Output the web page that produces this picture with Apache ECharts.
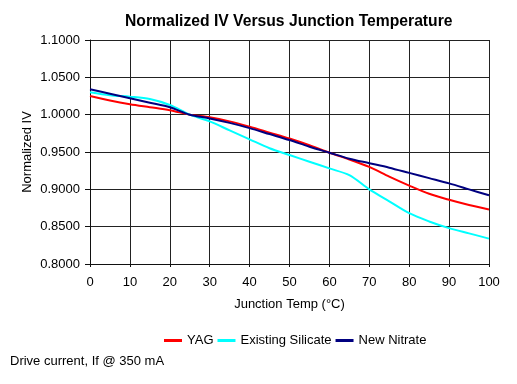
<!DOCTYPE html>
<html><head><meta charset="utf-8">
<script src="https://cdn.jsdelivr.net/npm/echarts@6/dist/echarts.min.js"></script>
<style>html,body{margin:0;padding:0;background:#fff}#c{width:517px;height:384px}</style>
</head><body><div id="c"></div>
<script>
var temps = [0,5,10,15,20,25,30,35,40,45,50,55,60,65,70,75,80,85,90,95,100];
var yag = [1.025,1.019,1.014,1.010,1.006,1.000,0.9965,0.991,0.984,0.976,0.968,0.959,0.949,0.940,0.930,0.917,0.905,0.894,0.886,0.879,0.873];
var silicate = [1.030,1.026,1.024,1.021,1.013,1.000,0.991,0.979,0.967,0.955,0.946,0.937,0.928,0.919,0.900,0.884,0.868,0.857,0.848,0.841,0.834];
var nitrate = [1.034,1.028,1.022,1.016,1.010,1.000,0.995,0.989,0.982,0.974,0.966,0.957,0.949,0.941,0.935,0.929,0.922,0.915,0.908,0.900,0.892];
var seriesNames = ['YAG','Existing Silicate','New Nitrate'];
var colors = ['#ff0000','#00ffff','#000080'];
function pairs(v){return temps.map(function(t,i){return [t,v[i]];});}
var font = 'Liberation Sans, Arial, sans-serif';
var chart = echarts.init(document.getElementById('c'), null, {renderer:'canvas'});
chart.setOption({
  animation:false,
  backgroundColor:'#fff',
  title:{text:'Normalized IV Versus Junction Temperature',left:120,top:9,
    textStyle:{fontFamily:font,fontSize:15.7,fontWeight:'bold',color:'#000'}},
  graphic:[{type:'text',left:10,top:355,style:{text:'Drive current, If @ 350 mA',fontFamily:font,fontSize:13,fill:'#000'}}],
  legend:{data:seriesNames,top:329,left:159,itemWidth:18,itemHeight:3,itemGap:4,icon:'rect',
    textStyle:{fontFamily:font,fontSize:13,color:'#000'}},
  grid:{left:90,right:28,top:40,bottom:120,containLabel:false},
  xAxis:{type:'value',min:0,max:100,interval:10,
    name:'Junction Temp (°C)',nameLocation:'middle',nameGap:34,
    nameTextStyle:{fontFamily:font,fontSize:13,color:'#000'},
    axisLine:{show:true,lineStyle:{color:'#111',width:1}},
    axisTick:{show:true,length:3,lineStyle:{color:'#111'}},
    axisLabel:{fontFamily:font,fontSize:13,color:'#000',margin:12},
    splitLine:{show:true,lineStyle:{color:'#222',width:1}}},
  yAxis:{type:'value',min:0.8,max:1.1,interval:0.05,
    name:'Normalized IV',nameLocation:'middle',nameGap:56,nameMoveOverlap:false,
    nameTextStyle:{fontFamily:font,fontSize:13,color:'#000'},
    axisLine:{show:true,lineStyle:{color:'#111',width:1}},
    axisTick:{show:true,length:5,lineStyle:{color:'#111'}},
    axisLabel:{fontFamily:font,fontSize:13,color:'#000',margin:10,formatter:function(v){return v.toFixed(4);}},
    splitLine:{show:true,lineStyle:{color:'#222',width:1}}},
  series:[
    {name:seriesNames[0],type:'line',data:pairs(yag),smooth:0.3,showSymbol:false,lineStyle:{color:colors[0],width:2},itemStyle:{color:colors[0]}},
    {name:seriesNames[1],type:'line',data:pairs(silicate),smooth:0.3,showSymbol:false,lineStyle:{color:colors[1],width:2},itemStyle:{color:colors[1]}},
    {name:seriesNames[2],type:'line',data:pairs(nitrate),smooth:0.3,showSymbol:false,lineStyle:{color:colors[2],width:2},itemStyle:{color:colors[2]}}
  ]
});
</script></body></html>
